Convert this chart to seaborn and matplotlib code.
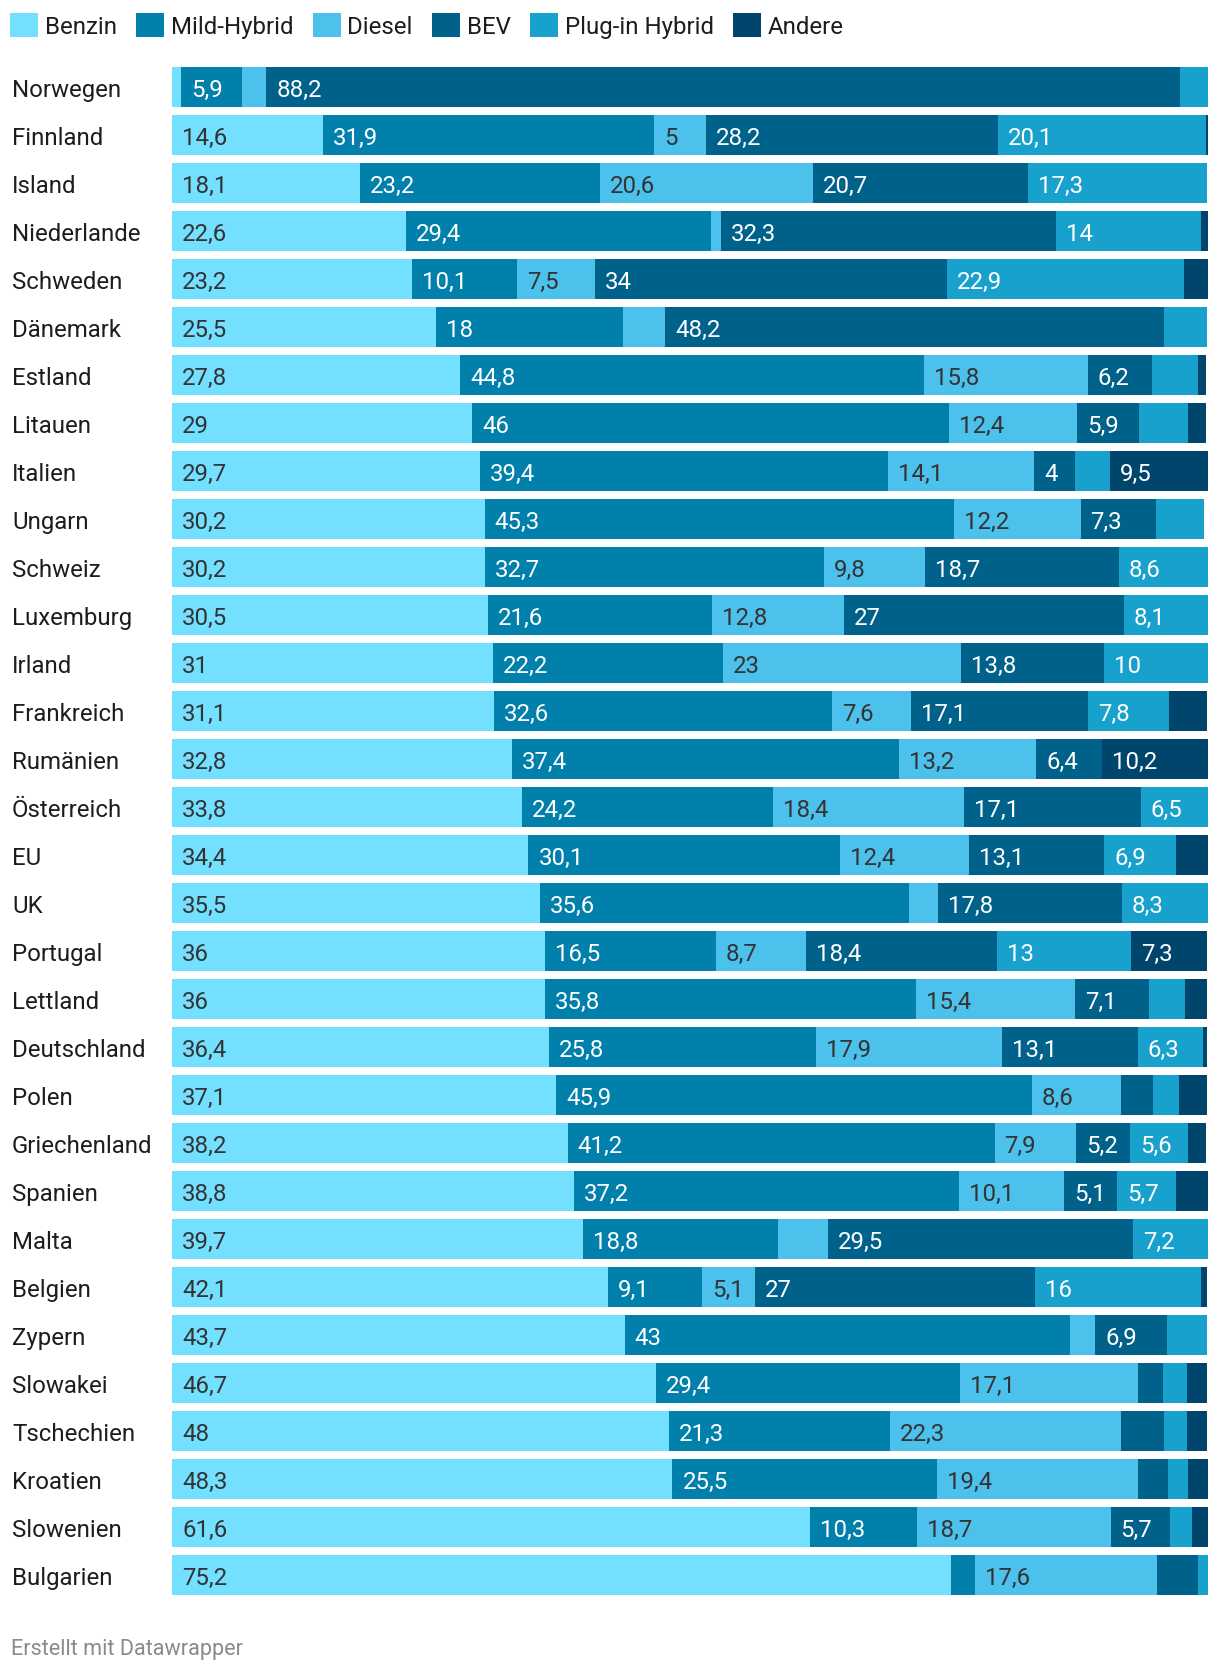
import pandas as pd
import matplotlib.pyplot as plt
import seaborn as sns

sns.set_style('white')
plt.rcParams['font.family'] = ['Roboto', 'DejaVu Sans']

countries = ['Norwegen', 'Finnland', 'Island', 'Niederlande', 'Schweden', 'Dänemark',
             'Estland', 'Litauen', 'Italien', 'Ungarn', 'Schweiz', 'Luxemburg', 'Irland',
             'Frankreich', 'Rumänien', 'Österreich', 'EU', 'UK', 'Portugal', 'Lettland',
             'Deutschland', 'Polen', 'Griechenland', 'Spanien', 'Malta', 'Belgien',
             'Zypern', 'Slowakei', 'Tschechien', 'Kroatien', 'Slowenien', 'Bulgarien']

benzin = [0.9, 14.6, 18.1, 22.6, 23.2, 25.5, 27.8, 29, 29.7, 30.2, 30.2, 30.5, 31, 31.1,
          32.8, 33.8, 34.4, 35.5, 36, 36, 36.4, 37.1, 38.2, 38.8, 39.7, 42.1, 43.7, 46.7,
          48, 48.3, 61.6, 75.2]
mild = [5.9, 31.9, 23.2, 29.4, 10.1, 18, 44.8, 46, 39.4, 45.3, 32.7, 21.6, 22.2, 32.6,
        37.4, 24.2, 30.1, 35.6, 16.5, 35.8, 25.8, 45.9, 41.2, 37.2, 18.8, 9.1, 43, 29.4,
        21.3, 25.5, 10.3, 2.3]
diesel = [2.3, 5, 20.6, 1.0, 7.5, 4.1, 15.8, 12.4, 14.1, 12.2, 9.8, 12.8, 23, 7.6, 13.2,
          18.4, 12.4, 2.8, 8.7, 15.4, 17.9, 8.6, 7.9, 10.1, 4.8, 5.1, 2.4, 17.1, 22.3,
          19.4, 18.7, 17.6]
bev = [88.2, 28.2, 20.7, 32.3, 34, 48.2, 6.2, 5.9, 4, 7.3, 18.7, 27, 13.8, 17.1, 6.4,
       17.1, 13.1, 17.8, 18.4, 7.1, 13.1, 3.1, 5.2, 5.1, 29.5, 27, 6.9, 2.5, 4.2, 2.9,
       5.7, 3.9]
phev = [2.7, 20.1, 17.3, 14, 22.9, 4.1, 4.4, 4.8, 3.3, 4.6, 8.6, 8.1, 10, 7.8, 0, 6.5,
        6.9, 8.3, 13, 3.5, 6.3, 2.5, 5.6, 5.7, 7.2, 16, 3.9, 2.3, 2.2, 2.0, 2.2, 1.0]
andere = [0, 0.2, 0, 0.7, 2.3, 0, 0.8, 1.7, 9.5, 0, 0, 0, 0, 3.7, 10.2, 0, 3.1, 0, 7.3,
          2.1, 0.4, 2.7, 1.7, 3.1, 0, 0.6, 0, 1.9, 1.9, 1.9, 1.5, 0]

series = ['Benzin', 'Mild-Hybrid', 'Diesel', 'BEV', 'Plug-in Hybrid', 'Andere']
colors = ['#73e0ff', '#0080ab', '#4cc1ec', '#00628b', '#19a1cd', '#00456c']
text_colors = ['#333333', 'white', '#333333', 'white', 'white', 'white']
FS = 17.3

df = pd.DataFrame(dict(zip(series, [benzin, mild, diesel, bev, phev, andere])),
                  index=countries)
cum = df.cumsum(axis=1)

fig = plt.figure(figsize=(12.2, 16.74), dpi=100)
ax = fig.add_axes([172 / 1220, 1 - 1600 / 1674, 1036 / 1220, 1536 / 1674])

# stacked bars: draw cumulative totals from the right-most segment down
for name, col in reversed(list(zip(series, colors))):
    sns.barplot(x=cum[name].values, y=countries, orient='h', color=col,
                width=0.83, linewidth=0, saturation=1, ax=ax, label=name)

handles, labels = ax.get_legend_handles_labels()
if ax.get_legend() is not None:
    ax.get_legend().remove()

ax.set_xlim(0, 100)
ax.set_ylim(31.5, -0.5)
ax.set_xticks([])
ax.set_xlabel('')
ax.set_ylabel('')
sns.despine(ax=ax, left=True, bottom=True)

ax.tick_params(axis='y', length=0, pad=160 * 0.72, labelsize=FS, labelcolor='#1d1d1d')
for lab in ax.get_yticklabels():
    lab.set_ha('left')
    lab.set_va('center_baseline')

# value labels, shown only if they fit inside the segment
renderer = fig.canvas.get_renderer()
px_per_unit = 1036 / 100
for i, country in enumerate(countries):
    for j, name in enumerate(series):
        v = df.loc[country, name]
        if v <= 0:
            continue
        left = cum.loc[country, name] - v
        txt = f'{v:g}'.replace('.', ',')
        t = ax.annotate(txt, (left, i), xytext=(7.2, 0), textcoords='offset points',
                        va='center_baseline', ha='left', fontsize=FS,
                        color=text_colors[j])
        w = t.get_window_extent(renderer).width
        if w + 20 > v * px_per_unit:
            t.remove()

order = [labels.index(s) for s in series]
fig.legend([handles[k] for k in order], series, loc='upper left',
           bbox_to_anchor=(10 / 1220, 1 - 14 / 1674), ncol=6, frameon=False,
           fontsize=FS, handlelength=1.17, handleheight=1.17, handletextpad=0.28,
           columnspacing=0.8, borderpad=0, borderaxespad=0, labelcolor='#1d1d1d')

fig.text(11 / 1220, 1 - 1650 / 1674, 'Erstellt mit Datawrapper', fontsize=15.6,
         color='#8a8a8a', va='center', ha='left')

fig.savefig('out.png', dpi=100)
